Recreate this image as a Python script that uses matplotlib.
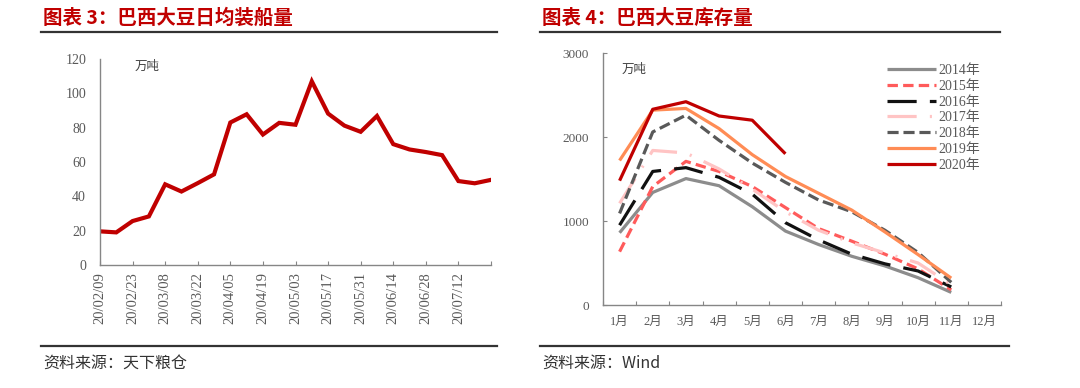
import matplotlib
matplotlib.use("Agg")
import matplotlib.pyplot as plt
from matplotlib.lines import Line2D

plt.rcParams['font.family'] = ['Liberation Serif', 'Noto Sans CJK SC', 'DejaVu Sans']
plt.rcParams['lines.scale_dashes'] = False

# ---------------- data ----------------
ship_dates = ["20/02/09", "20/02/16", "20/02/23", "20/03/01", "20/03/08", "20/03/15",
              "20/03/22", "20/03/29", "20/04/05", "20/04/12", "20/04/19", "20/04/26",
              "20/05/03", "20/05/10", "20/05/17", "20/05/24", "20/05/31", "20/06/07",
              "20/06/14", "20/06/21", "20/06/28", "20/07/05", "20/07/12", "20/07/19",
              "20/07/26"]
ship_values = [19.6, 19.0, 25.6, 28.3, 47.0, 42.8, 47.7, 52.8, 83.0, 87.8, 76.0, 82.8,
               81.7, 107.0, 88.2, 81.2, 77.6, 86.8, 70.4, 67.3, 65.8, 64.0, 48.9, 47.6, 49.6]

months = ["1月", "2月", "3月", "4月", "5月", "6月", "7月", "8月", "9月", "10月", "11月", "12月"]
stock_2014 = [860, 1340, 1505, 1420, 1170, 880, 720, 580, 465, 325, 150]
stock_2015 = [635, 1410, 1710, 1590, 1410, 1160, 910, 760, 605, 430, 180]
stock_2016 = [950, 1590, 1635, 1520, 1320, 980, 775, 605, 490, 405, 215]
stock_2017 = [1210, 1840, 1810, 1620, 1380, 1110, 890, 740, 620, 500, 240]
stock_2018 = [1090, 2060, 2260, 1960, 1690, 1460, 1250, 1110, 890, 625, 270]
stock_2019 = [1720, 2320, 2340, 2100, 1790, 1530, 1330, 1130, 870, 600, 320]
stock_2020 = [1480, 2330, 2420, 2250, 2200, 1800]
stock_labels = ["2014年", "2015年", "2016年", "2017年", "2018年", "2019年", "2020年"]

TXT = '#595959'
SPINE = '#868686'
TITLE_RED = '#C00000'
CJK = ['Noto Sans CJK SC', 'DejaVu Sans']

fig = plt.figure(figsize=(10.8, 3.88), dpi=100)

def style_axes(ax):
    for s in ['top', 'right']:
        ax.spines[s].set_visible(False)
    for s in ['left', 'bottom']:
        ax.spines[s].set_color(SPINE)
        ax.spines[s].set_linewidth(1.0)
    ax.tick_params(axis='both', colors=SPINE, labelcolor=TXT, direction='in',
                   length=3, width=0.8)

# ---------------- left chart ----------------
axL = fig.add_axes([100/1080, 1-265/388, 391/1080, 206/388])
xL = list(range(len(ship_values)))
axL.plot(xL, ship_values, color=TITLE_RED, lw=3.0, solid_joinstyle='miter')
axL.set_xlim(0, len(ship_values) - 1)
axL.set_ylim(0, 120)
axL.set_yticks(range(0, 121, 20))
ticks = list(range(0, len(ship_values), 2))
axL.set_xticks(ticks)
axL.set_xticklabels([ship_dates[i] if i < 23 else '' for i in ticks], rotation=90)
style_axes(axL)
axL.tick_params(axis='y', length=0, pad=10, labelsize=10)
axL.tick_params(axis='x', pad=5, labelsize=10.5)
axL.text(135/1080, 1-66/388, "万吨", transform=fig.transFigure, fontsize=9,
         family=CJK, color='#404040', va='center', ha='left')

# ---------------- right chart ----------------
axR = fig.add_axes([603/1080, 1-305/388, 398/1080, 252/388])
styles = [
    dict(color='#8C8C8C', ls='-'),
    dict(color='#FF5B5B', dashes=(7.5, 3.75)),
    dict(color='#111111', dashes=(21, 9.5)),
    dict(color='#FFC4C4', dashes=(21, 9.5, 1.5, 9.5)),
    dict(color='#595959', dashes=(8, 3.5)),
    dict(color='#FF8C55', ls='-'),
    dict(color='#C00000', ls='-'),
]
series = [stock_2014, stock_2015, stock_2016, stock_2017, stock_2018, stock_2019, stock_2020]
for vals, lab, st in zip(series, stock_labels, styles):
    x = list(range(1, len(vals) + 1))
    axR.plot(x, vals, lw=2.3, label=lab, solid_capstyle='butt', dash_capstyle='butt', **st)
axR.set_xlim(0.5, 12.5)
axR.set_ylim(0, 3000)
axR.set_yticks([0, 1000, 2000, 3000])
axR.set_xticks([i + 0.5 for i in range(0, 13)])
axR.set_xticklabels([])
axR.set_xticks(list(range(1, 13)), minor=True)
axR.set_xticklabels(months, minor=True)
style_axes(axR)
axR.tick_params(axis='x', which='minor', length=0, pad=8, labelsize=9, labelcolor=TXT)
axR.tick_params(axis='y', pad=10, labelsize=9.5)
axR.text(622/1080, 1-69/388, "万吨", transform=fig.transFigure, fontsize=9,
         family=CJK, color='#404040', va='center', ha='left')
leg = axR.legend(loc='upper left', bbox_to_anchor=(887/1080, 1-64/388),
                 bbox_transform=fig.transFigure, frameon=False, fontsize=10,
                 handlelength=3.5, handletextpad=0.2, labelspacing=0.2,
                 borderpad=0, borderaxespad=0)
for t in leg.get_texts():
    t.set_color(TXT)

# ---------------- titles, rules, sources ----------------
fig.text(43/1080, 1-18/388, "图表 3：巴西大豆日均装船量", fontsize=14, fontweight='bold',
         color=TITLE_RED, family=CJK, va='center', ha='left')
fig.text(542/1080, 1-18/388, "图表 4：巴西大豆库存量", fontsize=14, fontweight='bold',
         color=TITLE_RED, family=CJK, va='center', ha='left')

def hline(x0, x1, y, lw=1.6, color='#333333'):
    fig.add_artist(Line2D([x0/1080, x1/1080], [1-y/388, 1-y/388],
                          transform=fig.transFigure, color=color, lw=lw))

hline(41, 497, 32)
hline(540, 1000, 32)
hline(41, 497, 346)
hline(540, 1009, 346)

fig.text(43/1080, 1-363/388, "资料来源：天下粮仓", fontsize=11.5, color='#333333',
         family=CJK, va='center', ha='left')
fig.text(542/1080, 1-363/388, "资料来源：Wind", fontsize=11.5, color='#333333',
         family=['Noto Sans CJK SC', 'DejaVu Sans'], va='center', ha='left')

fig.savefig("out.png", dpi=100, facecolor='white')
